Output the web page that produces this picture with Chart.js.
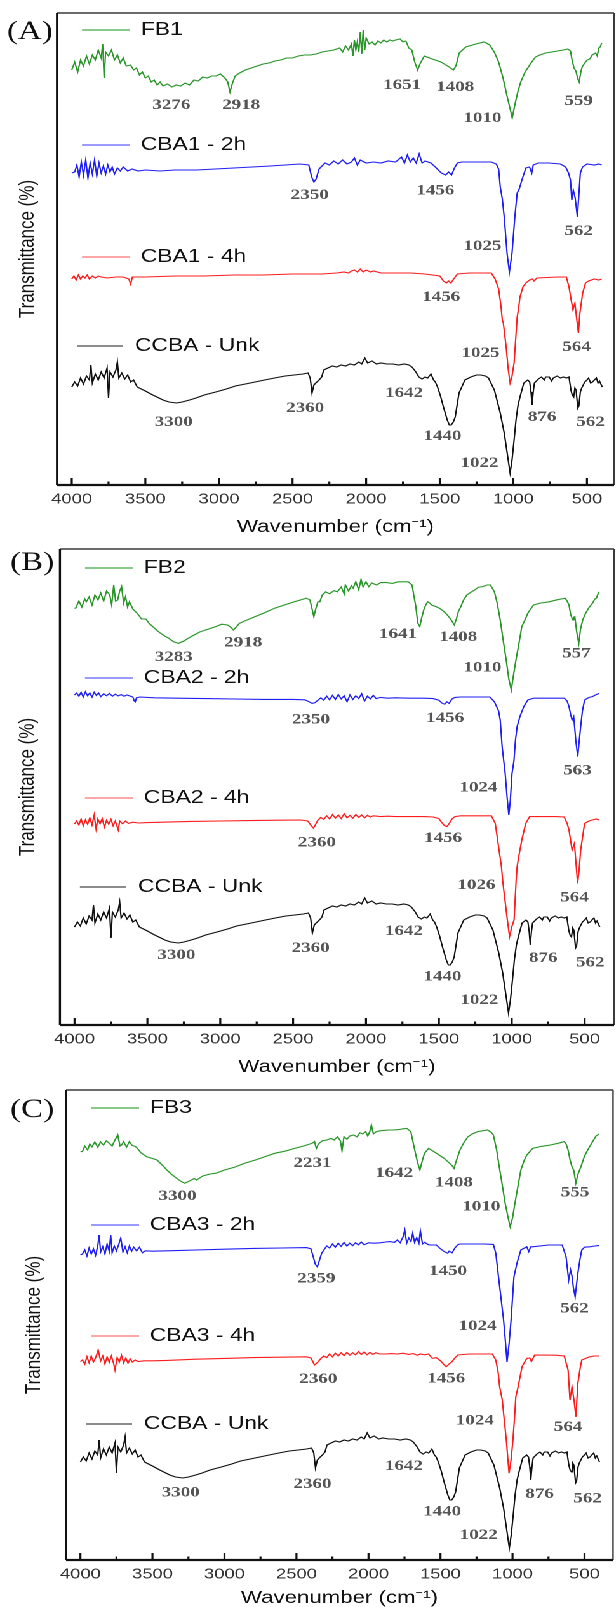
<!DOCTYPE html>
<html>
<head>
<meta charset="utf-8">
<script src="https://cdn.jsdelivr.net/npm/chart.js@4.4.1/dist/chart.umd.min.js"></script>
<style>
  html, body { margin: 0; padding: 0; background: #fff; overflow: hidden; width: 616px; height: 1607px; }
  /* the original figure is stretched sideways, so the whole drawing is too */
  #wrap { position: absolute; left: 0; top: 0; width: 485px; height: 1607px; transform: scaleX(1.27); transform-origin: 0 0; }
  #wrap canvas { position: absolute; left: 0; }
</style>
</head>
<body>
<div id="wrap">
  <canvas id="panelA" width="485" height="540" style="top:0"></canvas>
  <canvas id="panelB" width="485" height="540" style="top:540px"></canvas>
  <canvas id="panelC" width="485" height="530" style="top:1080px"></canvas>
</div>
<script>
// x tick labels (cm-1) and the unlabeled minor ticks
const xTickLabels = [500, 1000, 1500, 2000, 2500, 3000, 3500, 4000];
const xMinorTicks = [750, 1250, 1750, 2250, 2750, 3250, 3750];

// spectra, [wavenumber, transmittance (offset, arbitrary units)]
const fb1 = [[4000,103.75],[3980,105.75],[3960,103.25],[3940,106.25],[3920,104.75],[3900,107.25],[3880,105.25],[3860,107.5],[3840,106.25],[3820,108.75],[3800,106.75],[3790,110.25],[3780,101.75],[3770,108.25],[3750,107.25],[3730,108.75],[3710,106.25],[3690,107.5],[3670,105.5],[3650,106.75],[3630,104.75],[3600,105],[3580,103.75],[3560,104.25],[3540,102.5],[3520,103.25],[3500,101.75],[3480,102.25],[3460,100.75],[3440,101.25],[3420,100],[3400,100.75],[3380,99.75],[3350,100.25],[3320,99.5],[3290,100],[3260,99.75],[3230,100.5],[3200,100],[3170,101.25],[3140,101],[3110,102],[3080,101.75],[3050,102.25],[3020,102.25],[2990,102.75],[2960,101.75],[2940,100.75],[2925,98.25],[2910,100.25],[2890,102.25],[2860,103],[2820,103.75],[2780,104.25],[2740,104.75],[2700,105.25],[2660,105.5],[2620,106],[2580,106.25],[2540,106.75],[2500,106.75],[2460,107.25],[2420,107.5],[2380,107.5],[2340,107.75],[2300,108.25],[2260,108.5],[2220,108.75],[2180,109.25],[2160,108.25],[2140,109.75],[2120,108.75],[2100,110.25],[2090,107.25],[2080,111.25],[2070,108.75],[2060,110.75],[2050,108.25],[2040,113.25],[2030,107.75],[2020,113.75],[2010,108.75],[2000,111.75],[1980,110.25],[1960,110.75],[1940,110],[1920,111],[1900,110.5],[1880,111.25],[1860,110.75],[1840,111.25],[1820,111],[1800,111.25],[1770,111.5],[1750,110.75],[1730,111],[1710,109.25],[1690,108.75],[1670,105.75],[1650,103.75],[1635,105.25],[1605,107.25],[1551,106.5],[1492,105.75],[1436,104.5],[1408,103.75],[1390,104.75],[1368,108],[1323,109.5],[1255,110.25],[1200,110.75],[1184,110.5],[1160,110],[1130,108.25],[1100,105.75],[1070,101.75],[1040,96.75],[1020,93.75],[1008,91.75],[990,95],[970,98.25],[950,100.75],[920,103.25],[880,105.5],[850,107],[820,107.5],[780,108],[740,108.25],[700,108.5],[660,108.75],[630,109],[612,108.5],[600,106],[588,104.25],[575,103.5],[562,101.5],[553,100.75],[543,103],[533,104.5],[515,105.5],[499,106.25],[480,106.5],[465,107.5],[441,108],[430,107.25],[420,109.25],[410,109.5],[400,110.5]];

const cba1h2 = [[4000,78],[3980,78.25],[3965,80],[3950,77],[3935,80.75],[3920,77.5],[3905,81.25],[3890,76.75],[3875,80.5],[3860,77.75],[3845,81.25],[3830,77.25],[3815,80.5],[3800,78],[3785,79.75],[3770,77.75],[3755,80],[3740,78.25],[3725,79.5],[3710,77.75],[3690,79.25],[3670,78.5],[3650,79.5],[3620,78.5],[3590,79],[3550,78.5],[3500,78.75],[3400,78.5],[3300,78.75],[3150,78.75],[2900,79.25],[2650,79.75],[2450,80.25],[2390,80],[2370,77],[2355,75.75],[2340,76.5],[2320,79],[2300,79.75],[2280,80.5],[2250,80],[2220,81],[2190,80.25],[2160,81.25],[2130,80.25],[2100,80.75],[2080,81.75],[2060,80],[2040,81.25],[2000,80.5],[1950,80.75],[1900,80.5],[1850,81],[1800,80.75],[1760,82],[1740,80.5],[1720,82.5],[1700,80.75],[1680,81.75],[1660,80.5],[1640,82.75],[1620,80.5],[1600,81],[1560,80.5],[1530,79.5],[1490,78],[1460,77.5],[1440,78.25],[1420,77.5],[1400,79.25],[1380,80.5],[1350,80.75],[1250,80.75],[1150,80.75],[1116,80.25],[1100,79],[1089,74.5],[1075,71.5],[1062,67],[1043,58],[1027,53.25],[1009,58],[990,67],[974,73],[960,74],[942,76.25],[915,79.25],[890,79.5],[875,78],[865,80],[830,80.5],[760,80.5],[680,80.25],[645,79.5],[625,78],[612,76.25],[603,71.25],[593,73.75],[580,71.75],[565,67],[555,72.5],[545,78],[530,79.5],[500,80.25],[450,80],[420,80.25],[400,80]];

const cba1h4 = [[4000,51.5],[3985,52.25],[3970,51.25],[3955,52.5],[3940,51.5],[3925,52.25],[3910,51.75],[3895,52.5],[3880,51.5],[3860,52.25],[3840,51.75],[3820,52.25],[3800,52],[3760,51.75],[3700,52],[3650,52],[3612,51.5],[3600,50.25],[3588,52],[3500,52],[3300,52.25],[3100,52.25],[2900,52.5],[2700,52.5],[2500,52.75],[2300,52.75],[2200,53],[2150,53.25],[2120,53],[2100,53.5],[2080,53.75],[2060,53.25],[2040,54],[2020,53.25],[2000,53.75],[1970,53.25],[1950,53.5],[1900,53],[1800,53],[1700,53],[1600,52.75],[1550,52.5],[1500,52.25],[1475,51],[1455,50.5],[1440,51],[1425,50.5],[1400,51.75],[1380,52.75],[1300,53],[1150,53],[1124,51.5],[1100,49],[1085,45],[1075,41.25],[1068,40.5],[1049,34.5],[1035,29],[1022,25.5],[1010,27],[995,30.5],[985,36],[974,42],[965,44],[955,47],[935,49.5],[915,50.5],[889,51.25],[870,51.5],[860,51],[840,51.75],[700,52],[640,52],[622,49.5],[606,46],[595,43.75],[582,45.5],[568,41],[558,38],[548,43],[529,48],[510,50.5],[489,51],[450,51.5],[420,51.25],[400,51.5]];

// the same reference spectrum is shown at the bottom of every panel
const ccba = [[4000,24.5],[3980,25.75],[3960,24.75],[3940,26.75],[3920,25.25],[3900,27.25],[3880,26.25],[3870,30],[3860,25.5],[3840,27.75],[3820,26.25],[3800,28.25],[3780,26.75],[3760,29.25],[3750,21.75],[3740,28.25],[3720,27],[3700,28.75],[3690,30.75],[3680,26.75],[3660,28],[3640,26.5],[3620,27.5],[3600,25.75],[3580,26.25],[3555,24.5],[3500,23.5],[3450,22.5],[3421,22],[3380,21.25],[3340,20.75],[3288,20.5],[3250,20.75],[3200,21.25],[3155,21.75],[3100,22.5],[3022,23.25],[2950,24],[2888,24.75],[2820,25.25],[2755,25.75],[2690,26.25],[2622,26.75],[2550,27.25],[2488,27.5],[2430,27.75],[2395,28],[2380,26.75],[2368,23],[2355,25],[2342,25.5],[2320,26.25],[2302,27],[2288,28.75],[2260,29.25],[2230,29.75],[2200,29.5],[2170,30],[2140,29.75],[2110,30.25],[2080,30],[2050,30.75],[2030,30.25],[2009,31.75],[1990,30.5],[1960,31],[1930,30.25],[1900,30.5],[1860,30.25],[1820,30.25],[1780,30],[1740,30.25],[1710,30],[1689,29.5],[1662,28.25],[1642,27],[1620,26.5],[1600,27],[1582,26.75],[1560,27.75],[1542,26.25],[1530,25.75],[1515,24.5],[1495,22.25],[1475,19.5],[1449,16.25],[1435,15],[1422,15],[1408,15.75],[1395,17],[1369,23],[1329,26.25],[1289,27],[1250,27.5],[1222,27.5],[1190,27.25],[1169,26.75],[1129,23.75],[1089,18],[1062,13],[1045,8.75],[1035,6.25],[1022,3],[1009,6.25],[995,11.25],[982,16.25],[968,20],[955,22],[929,25.5],[902,26.25],[889,25.75],[880,23.25],[873,20],[865,23.25],[857,25.5],[830,26.5],[809,27],[790,26.25],[780,27],[756,27],[740,26],[729,26.75],[702,27.25],[680,26.75],[660,27],[640,26.75],[622,27],[609,23.75],[600,22.5],[590,22],[582,24.25],[574,23.75],[562,19.25],[555,19.75],[545,23.25],[536,24.25],[515,25.75],[500,26.25],[489,26.75],[475,25.5],[462,25.75],[450,26.25],[436,26.75],[425,25.5],[415,26],[396,24.5]];

const fb2 = [[4000,104.2],[3992,104.2],[3970,106],[3950,104.5],[3930,106.5],[3919,105.8],[3900,107],[3880,105],[3860,107.5],[3839,106.25],[3820,108],[3800,106],[3780,108.5],[3758,107.5],[3745,105],[3731,110],[3718,106],[3704,106.25],[3690,108.5],[3677,109.6],[3663,105.5],[3650,107.1],[3636,104.5],[3623,105.8],[3600,104],[3569,102.9],[3540,101.5],[3510,101.5],[3488,100.4],[3460,99.5],[3430,98.5],[3408,97.9],[3380,97.2],[3354,96.7],[3320,95.8],[3286,95.4],[3250,96],[3219,96.7],[3180,97.5],[3138,98.3],[3080,99],[3031,99.6],[2990,100.2],[2950,100],[2930,99.5],[2910,98.75],[2890,99.5],[2869,100.4],[2820,101.2],[2761,102.1],[2700,103],[2627,104.2],[2560,105],[2492,105.8],[2450,106.25],[2411,106.7],[2385,106.3],[2370,104],[2358,102.1],[2345,104],[2330,105.8],[2317,105.8],[2300,107.5],[2277,108.3],[2250,107.8],[2220,108.6],[2196,108.3],[2170,109.5],[2150,107.8],[2142,110],[2120,108.5],[2100,109.8],[2088,109.2],[2070,110.8],[2050,108.8],[2034,111.4],[2020,109.5],[2000,110.8],[1981,109.6],[1960,110.5],[1927,110],[1900,110.6],[1860,110.6],[1819,110.4],[1780,110.8],[1740,110.8],[1711,110.8],[1684,110],[1670,107],[1658,104.6],[1645,100.5],[1631,99.6],[1620,101.5],[1604,103.75],[1590,105],[1577,105.8],[1560,105.4],[1550,105],[1520,104.6],[1496,104.2],[1470,103.5],[1442,102.5],[1420,101.5],[1394,100],[1380,101.5],[1365,103.5],[1349,104.6],[1330,106.3],[1308,107.5],[1280,108.2],[1254,108.75],[1230,109.4],[1200,109.6],[1170,110],[1146,110],[1130,109],[1119,108.3],[1100,105.5],[1079,101.25],[1060,96.5],[1038,91.25],[1020,86.5],[1003,83.75],[990,87],[971,91.25],[950,95.5],[931,99.6],[910,101.2],[890,102.9],[870,104],[850,105],[800,105.5],[742,105.8],[690,106.3],[634,106.7],[620,106],[607,105],[595,102.5],[581,101.25],[573,102],[567,102.1],[555,98.5],[540,95.4],[528,99],[513,101.25],[495,102.8],[473,104.2],[445,105.5],[430,106.5],[419,106.7],[408,107.8],[400,108.3]];

const cba2h2 = [[4000,82.5],[3985,83],[3970,82.2],[3955,83.2],[3940,82],[3925,83.3],[3910,82.3],[3895,83],[3880,82],[3865,83.2],[3850,82.4],[3835,83],[3820,82.1],[3800,82.8],[3780,82.3],[3760,82.9],[3740,82.2],[3720,82.7],[3700,82.3],[3680,82.6],[3660,82.2],[3640,82.5],[3600,82],[3590,81],[3583,80.8],[3575,81.8],[3550,82],[3450,81.8],[3300,81.7],[3100,81.6],[2900,81.5],[2700,81.4],[2500,81.4],[2420,81.3],[2390,80.8],[2370,80.4],[2350,80.6],[2330,81.2],[2310,81.8],[2290,81.2],[2270,82.2],[2250,81.3],[2230,82.4],[2210,81.4],[2190,82.6],[2170,81.5],[2150,82.3],[2130,80.8],[2110,82.5],[2090,81.4],[2070,82.3],[2050,81.6],[2030,82.8],[2010,81],[1990,82.2],[1970,81.5],[1950,82.4],[1930,81.6],[1900,81.9],[1850,81.7],[1800,81.8],[1700,81.7],[1600,81.7],[1540,81.6],[1500,81.2],[1480,80.5],[1460,80.2],[1445,80.8],[1430,80.4],[1410,81.5],[1390,81.9],[1350,82],[1250,82],[1150,82],[1119,80.8],[1090,78.5],[1079,76.25],[1066,69.6],[1045,62.9],[1032,57],[1020,52.5],[1010,56],[998,62.9],[985,66],[975,71],[963,74.6],[944,77.1],[917,79.6],[890,81.25],[850,81.7],[750,81.7],[640,81.7],[620,81],[607,79.6],[595,77.5],[586,76.25],[575,77.1],[560,71],[547,67.1],[537,71],[527,74.6],[515,78.5],[500,81.25],[470,81.9],[446,82.1],[420,82.6],[400,82.9]];

const cba2h4 = [[4000,50.25],[3985,51],[3970,50],[3955,51.5],[3940,49.8],[3925,51.3],[3910,50.2],[3895,51.8],[3880,50],[3865,52.5],[3852,49],[3840,51.5],[3825,50.3],[3810,51.6],[3795,49.5],[3780,51.2],[3765,50.2],[3750,51.4],[3735,49.8],[3720,51],[3700,48.75],[3690,51],[3670,50.3],[3650,51],[3630,50.4],[3600,50.7],[3560,50.5],[3500,50.6],[3400,50.7],[3200,50.9],[3000,51],[2800,51.1],[2600,51.2],[2450,51.25],[2400,51],[2375,49.8],[2360,49.2],[2345,50.2],[2330,51.2],[2310,51.9],[2290,51.4],[2270,52.3],[2250,51.5],[2230,52.6],[2210,51.7],[2190,52.5],[2170,51.6],[2150,52.8],[2130,51.8],[2110,52.4],[2090,51.7],[2070,52.6],[2050,51.9],[2030,52.5],[2010,51.8],[1990,52.4],[1970,52],[1950,52.3],[1900,52.1],[1850,52.2],[1800,52.1],[1700,52.1],[1600,52.1],[1540,52],[1500,51.6],[1480,50.6],[1460,49.8],[1445,49.6],[1430,50.3],[1410,51.5],[1390,52.1],[1350,52.3],[1250,52.3],[1140,52.3],[1113,50.4],[1087,43.75],[1072,40],[1060,35.4],[1033,27.1],[1015,22.1],[1000,24.5],[984,26.25],[970,36],[963,39.6],[952,42.1],[931,46.25],[904,50.4],[877,52.1],[800,52.1],[700,52.1],[640,52],[620,50.4],[607,48.75],[586,43.75],[570,45.4],[548,35.4],[537,39],[527,43.75],[500,50.4],[470,51],[446,51.25],[420,51.5],[400,51.25]];

const fb3 = [[4000,102.1],[3986,102.1],[3970,103.5],[3950,102.5],[3935,104],[3920,103.3],[3900,104.5],[3880,103.2],[3860,104.5],[3840,103.75],[3820,104.8],[3800,104.2],[3780,103.5],[3760,105],[3741,106.25],[3725,103.5],[3714,103.75],[3700,104.6],[3680,103.2],[3660,104.6],[3640,103.6],[3620,103.4],[3604,102.9],[3580,101.8],[3540,100.8],[3510,100.5],[3468,100],[3440,99],[3420,98.3],[3400,97.5],[3370,96.5],[3331,95.4],[3300,94.6],[3276,94.2],[3240,94.8],[3210,95.4],[3194,95],[3150,96],[3100,96.5],[3058,96.7],[3000,97.5],[2950,98],[2921,98.3],[2860,99.2],[2785,100],[2720,100.8],[2648,101.7],[2580,102.2],[2512,102.9],[2450,103.5],[2390,104.2],[2375,104.6],[2362,102.9],[2348,104],[2320,104.8],[2290,105],[2260,105.4],[2239,105],[2215,105.8],[2195,104.8],[2184,102.3],[2170,105.8],[2150,105.2],[2130,106],[2102,106.25],[2080,105.8],[2060,106.8],[2040,106.5],[2020,107.1],[2005,106],[1990,107.2],[1980,108.75],[1966,106.5],[1945,107.1],[1920,107.3],[1890,107.4],[1860,107.5],[1829,107.5],[1790,107.6],[1760,107.8],[1734,107.9],[1706,107.1],[1679,102.5],[1660,99.5],[1643,97.5],[1625,100],[1611,101.7],[1583,102.9],[1555,102.3],[1529,101.7],[1474,100.4],[1440,99.3],[1420,98.6],[1406,97.9],[1390,99.8],[1365,102.5],[1340,104.2],[1310,105.8],[1280,106.5],[1242,107.1],[1210,107.3],[1174,107.5],[1150,107],[1133,106.25],[1110,102.5],[1092,98.3],[1070,93.5],[1051,89.2],[1030,85.5],[1016,83.3],[1000,85.5],[983,89.2],[962,93.5],[942,97.5],[920,99.8],[901,101.25],[860,102.9],[800,103.4],[737,103.75],[680,104.2],[641,104.6],[628,104],[614,102.5],[600,100],[587,98.3],[575,97.5],[560,94.2],[545,96.5],[525,98.3],[500,101],[478,102.5],[460,103.6],[437,105],[420,106],[409,106.25],[400,106.5]];

const cba3h2 = [[4000,76.25],[3986,76.5],[3970,77.5],[3955,76],[3940,78],[3925,76.5],[3910,77.8],[3895,76.2],[3880,78.5],[3870,81.25],[3860,77],[3845,78.3],[3830,76.5],[3815,79],[3800,77.2],[3790,81.25],[3780,76.8],[3765,78.5],[3750,77.3],[3735,78.8],[3720,80.5],[3705,77],[3690,78.3],[3675,76.8],[3660,78.5],[3645,77.2],[3630,78.2],[3610,77.3],[3590,78.2],[3570,76.8],[3550,77.3],[3500,77.2],[3400,77.3],[3300,77.4],[3200,77.5],[3000,77.7],[2800,77.9],[2600,78],[2430,78.1],[2400,77.8],[2385,76],[2370,74],[2355,73.3],[2340,75],[2325,76.7],[2310,77.5],[2290,78.5],[2270,78],[2250,79],[2230,78.2],[2210,79.2],[2190,78.4],[2170,79.4],[2150,78.5],[2130,79.2],[2110,78.6],[2090,79.3],[2070,78.8],[2050,79.5],[2030,78.8],[2000,79.3],[1960,79.2],[1920,79.3],[1880,79.5],[1850,79.6],[1820,79.4],[1800,80],[1780,79.3],[1760,80.8],[1748,82.5],[1735,79.2],[1720,80.5],[1705,79.6],[1693,81.7],[1680,79.4],[1665,80.6],[1650,79.2],[1640,82.3],[1625,79],[1610,79.4],[1583,78.8],[1560,78.75],[1529,78.75],[1500,77.8],[1474,77.1],[1450,76.7],[1440,77.2],[1420,76.8],[1400,78],[1380,78.8],[1365,79],[1300,79],[1200,79],[1133,78.9],[1116,76.7],[1089,68.3],[1062,60],[1050,55],[1038,49.5],[1024,54],[1010,60],[990,70.8],[969,74.2],[942,77.5],[901,78.3],[887,77.1],[874,78.3],[860,78.3],[750,78.75],[655,78.75],[628,75.8],[610,70],[597,72.5],[587,71],[577,68],[565,65.8],[555,69],[546,71.7],[530,75.5],[519,77.5],[500,78.2],[464,78.3],[430,78.5],[400,78.6]];

const cba3h4 = [[4000,49.6],[3986,50],[3970,49],[3955,50.8],[3940,49.3],[3925,51],[3910,49.5],[3895,50.5],[3877,52.5],[3860,49.8],[3845,51],[3830,49],[3815,50.8],[3800,49.4],[3785,51],[3770,49.2],[3760,47.5],[3745,50.6],[3730,49.5],[3715,51.2],[3700,49.3],[3685,50.5],[3670,49.2],[3655,50.3],[3640,49.5],[3620,50],[3600,49.6],[3560,49.8],[3500,49.8],[3400,49.9],[3200,50.2],[3000,50.4],[2800,50.6],[2600,50.7],[2430,50.8],[2400,50.5],[2385,49.5],[2375,48.75],[2360,49.2],[2348,49.6],[2330,50.4],[2310,51],[2290,50.6],[2270,51.5],[2250,50.8],[2230,51.7],[2210,51],[2190,51.8],[2170,51.1],[2150,51.9],[2130,51.2],[2110,51.8],[2090,51.3],[2070,52.1],[2050,51.4],[2030,52],[2010,51.3],[1990,51.9],[1970,51.4],[1950,51.8],[1920,51.5],[1880,51.5],[1840,51.6],[1800,51.5],[1760,51.7],[1720,51.4],[1690,51.6],[1660,51.2],[1640,51.5],[1610,51.3],[1583,51.5],[1556,50.4],[1530,50.6],[1500,49.8],[1475,48.8],[1461,48.3],[1440,49],[1420,49.6],[1400,50.5],[1379,51.25],[1300,51.5],[1200,51.5],[1140,51.5],[1116,50],[1100,47],[1089,43.3],[1071,40],[1060,36],[1043,30],[1024,21.7],[1010,25],[997,30],[985,36],[977,40.8],[961,43.3],[934,48.3],[901,50.4],[880,50.5],[869,49.6],[846,51.25],[700,51.2],[641,51],[614,47.5],[601,40],[587,43.3],[573,40],[560,35.8],[546,44.2],[530,48],[519,50],[464,50.8],[430,51],[400,51]];

// peak labels: [text, wavenumber, transmittance]
const peaksA = [['3276',3324,95],['2918',2849,95],['1651',1756,100],['1408',1396,99.5],['1010',1210,91.75],['559',556,96],['2350',2383,72.5],['1456',1530,73.6],['1025',1210,59.75],['562',556,63.5],['1456',1490,47],['1025',1223,33],['564',570,34.5],['3300',3308,15.75],['2360',2415,19.25],['1642',1743,23],['1440',1482,12.25],['1022',1231,5.5],['876',805,17],['562',476,15.75]];
const peaksB = [['3283',3320,92],['2918',2843,95.6],['1641',1780,97.75],['1408',1368,97],['1010',1201,89.3],['557',556,92.9],['2350',2377,76.4],['1456',1457,76.7],['563',550,63.6],['1024',1228,59.3],['2360',2337,45.6],['1456',1471,46.7],['1026',1242,35],['564',569,31.9],['3300',3301,17.5],['2360',2380,19.2],['1642',1740,23.5],['1440',1476,12.1],['1022',1223,6.25],['876',784,16.7],['562',461,15.6]];
const peaksC = [['3300',3326,91],['2231',2389,99.2],['1642',1822,96.7],['1408',1407,94.4],['1010',1216,88.3],['555',566,91.8],['2359',2362,70.4],['1450',1448,72.25],['562',569,62.9],['1024',1243,58.5],['2360',2348,45.2],['1456',1461,45.4],['1024',1262,34.8],['564',615,33.2],['3300',3304,16.9],['2360',2389,19],['1642',1754,23.5],['1440',1489,12.1],['1022',1235,6.25],['876',812,16.5],['562',479,15.4]];

const lineColors = ['#2a962a', '#1f1ff5', '#ff1c1c', '#111111'];
const legendColors = ['#62b862', '#7a7aff', '#ff8a8a', '#666666'];

Chart.defaults.font.family = "'Liberation Sans', Arial, sans-serif";
Chart.defaults.color = '#111';

function decorPlugin(p) {
    return {
        id: 'decor' + p.id,
        afterDraw(chart) {
            const ctx = chart.ctx;
            const a = chart.chartArea;
            const xs = chart.scales.x;
            const ys = chart.scales.y;
            ctx.save();

            // frame: thin grey top/right, heavier black axes
            ctx.strokeStyle = '#3a3a3a';
            ctx.lineWidth = 1.5;
            ctx.beginPath();
            ctx.moveTo(a.left, a.top);
            ctx.lineTo(a.right, a.top);
            ctx.stroke();
            ctx.lineWidth = 1.2;
            ctx.beginPath();
            ctx.moveTo(a.right, a.top);
            ctx.lineTo(a.right, a.bottom);
            ctx.stroke();
            ctx.strokeStyle = '#111';
            ctx.lineWidth = 1.7;
            ctx.beginPath();
            ctx.moveTo(a.left, a.top);
            ctx.lineTo(a.left, a.bottom);
            ctx.stroke();
            ctx.lineWidth = 2.2;
            ctx.beginPath();
            ctx.moveTo(a.left, a.bottom);
            ctx.lineTo(a.right, a.bottom);
            ctx.stroke();

            // inward tick marks
            ctx.lineWidth = 1.6;
            xTickLabels.forEach(v => {
                const px = xs.getPixelForValue(v);
                ctx.beginPath();
                ctx.moveTo(px, a.bottom);
                ctx.lineTo(px, a.bottom - 7);
                ctx.stroke();
            });
            xMinorTicks.forEach(v => {
                const px = xs.getPixelForValue(v);
                ctx.beginPath();
                ctx.moveTo(px, a.bottom);
                ctx.lineTo(px, a.bottom - 3.5);
                ctx.stroke();
            });

            // legend entries sit just above each spectrum
            ctx.font = "18px 'Liberation Sans', Arial, sans-serif";
            ctx.textAlign = 'left';
            ctx.textBaseline = 'middle';
            p.names.forEach((name, i) => {
                const y = ys.getPixelForValue(p.legendY[i]);
                const last = i === p.names.length - 1;
                const x0 = a.left + (last ? 15.7 : 19.7);
                const x1 = a.left + (last ? 52 : 57.5);
                ctx.strokeStyle = legendColors[i];
                ctx.lineWidth = 1.5;
                ctx.beginPath();
                ctx.moveTo(x0, y);
                ctx.lineTo(x1, y);
                ctx.stroke();
                ctx.fillStyle = '#111';
                ctx.fillText(name, a.left + (last ? 61.4 : 66), y);
            });

            // peak positions
            ctx.font = "bold 15px 'Liberation Serif', 'Times New Roman', serif";
            ctx.fillStyle = '#555';
            ctx.textAlign = 'center';
            p.peaks.forEach(([t, wn, val]) => {
                ctx.fillText(t, xs.getPixelForValue(wn), ys.getPixelForValue(val));
            });

            // panel letter
            ctx.font = "26px 'Liberation Serif', 'Times New Roman', serif";
            ctx.fillStyle = '#111';
            ctx.textAlign = 'left';
            ctx.fillText(p.tag, p.tagX, p.tagY);
            ctx.restore();
        }
    };
}

function makePanel(p) {
    return new Chart(document.getElementById(p.id), {
        type: 'line',
        data: {
            datasets: p.series.map((s, i) => ({
                label: p.names[i],
                data: s,
                borderColor: lineColors[i],
                borderWidth: 1.1,
                pointRadius: 0,
                tension: 0,
                fill: false
            }))
        },
        options: {
            responsive: false,
            animation: false,
            devicePixelRatio: 2,
            layout: { padding: { top: p.padTop, right: p.padRight, left: 0, bottom: 0 } },
            plugins: { legend: { display: false }, tooltip: { enabled: false } },
            scales: {
                x: {
                    type: 'linear',
                    reverse: true,
                    min: p.xMin,
                    max: 4100,
                    afterBuildTicks: s => { s.ticks = xTickLabels.map(v => ({ value: v })); },
                    afterFit: s => { s.height = p.axisH; },
                    grid: { display: false, drawTicks: false },
                    border: { display: false },
                    ticks: {
                        autoSkip: false,
                        maxRotation: 0,
                        padding: 6,
                        color: '#333',
                        font: { size: 14.5 },
                        callback: v => String(v)
                    },
                    title: {
                        display: true,
                        text: 'Wavenumber (cm⁻¹)',
                        color: '#111',
                        font: { size: 17.5 },
                        padding: { top: 0, bottom: p.titlePad }
                    }
                },
                y: {
                    min: 0,
                    max: p.yMax,
                    afterFit: s => { s.width = p.leftW; },
                    grid: { display: false, drawTicks: false },
                    border: { display: false },
                    ticks: { display: false },
                    title: {
                        display: true,
                        text: 'Transmittance (%)',
                        color: '#111',
                        font: { size: 17 },
                        padding: { top: p.yTitlePad, bottom: 0 }
                    }
                }
            }
        },
        plugins: [decorPlugin(p)]
    });
}

const chartA = makePanel({
    id: 'panelA', tag: '(A)', tagX: 5.5, tagY: 32,
    names: ['FB1', 'CBA1 - 2h', 'CBA1 - 4h', 'CCBA - Unk'],
    series: [fb1, cba1h2, cba1h4, ccba],
    legendY: [113.75, 85, 57, 34.75],
    peaks: peaksA,
    xMin: 316, yMax: 118, padTop: 13, padRight: 1.5, leftW: 44.9,
    axisH: 55, titlePad: 2.5, yTitlePad: 11.8
});

const chartB = makePanel({
    id: 'panelB', tag: '(B)', tagX: 8, tagY: 23,
    names: ['FB2', 'CBA2 - 2h', 'CBA2 - 4h', 'CCBA - Unk'],
    series: [fb2, cba2h2, cba2h4, ccba],
    legendY: [114.25, 86.75, 56.75, 34.5],
    peaks: peaksB,
    xMin: 298, yMax: 119, padTop: 9, padRight: 1.5, leftW: 47.2,
    axisH: 55, titlePad: 2.5, yTitlePad: 11.8
});

const chartC = makePanel({
    id: 'panelC', tag: '(C)', tagX: 8, tagY: 30,
    names: ['FB3', 'CBA3 - 2h', 'CBA3 - 4h', 'CCBA - Unk'],
    series: [fb3, cba3h2, cba3h4, ccba],
    legendY: [113, 83.75, 56, 34],
    peaks: peaksC,
    xMin: 302, yMax: 117.5, padTop: 10, padRight: 2.3, leftW: 52,
    axisH: 50, titlePad: 1.5, yTitlePad: 16.6
});
</script>
</body>
</html>
